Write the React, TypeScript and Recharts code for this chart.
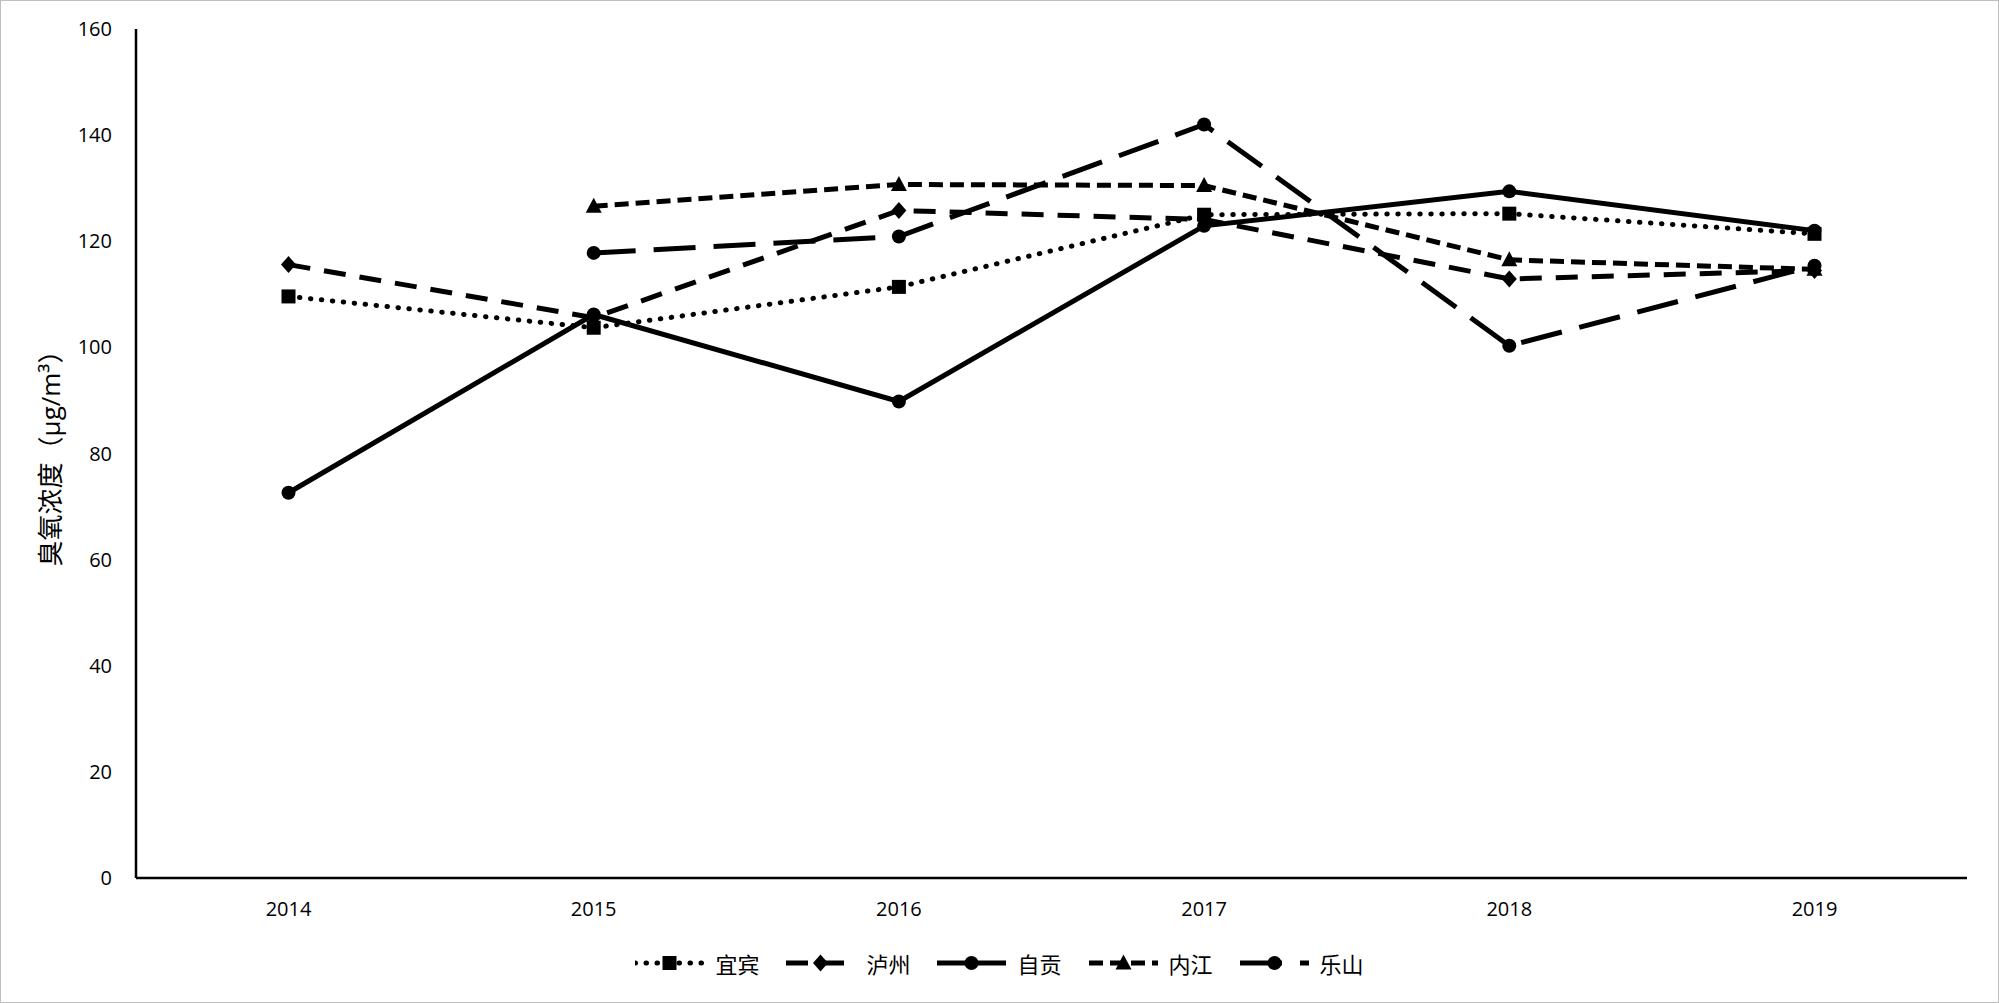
import React from 'react'
import { LineChart, Line, XAxis, YAxis, Legend, Label } from 'recharts'

const years = ['2014', '2015', '2016', '2017', '2018', '2019']
const yibin = [109.6, 103.7, 111.4, 125.0, 125.2, 121.4]
const luzhou = [115.6, 105.6, 125.8, 124.1, 112.9, 114.5]
const zigong = [72.6, 106.2, 89.8, 122.9, 129.4, 122.0]
const neijiang = [null, 126.6, 130.7, 130.5, 116.5, 114.7]
const leshan = [null, 117.8, 120.9, 142.0, 100.3, 115.4]
const yTicks = [0, 20, 40, 60, 80, 100, 120, 140, 160]

const data = years.map((year, i) => ({
  year,
  yibin: yibin[i],
  luzhou: luzhou[i],
  zigong: zigong[i],
  neijiang: neijiang[i],
  leshan: leshan[i],
}))

type Shape = 'square' | 'diamond' | 'circle' | 'triangle'

const series: { key: string; name: string; dash?: string; cap: 'round' | 'butt'; shape: Shape }[] = [
  { key: 'yibin', name: '宜宾', dash: '0.5 10.5', cap: 'round', shape: 'square' },
  { key: 'luzhou', name: '泸州', dash: '22 14', cap: 'butt', shape: 'diamond' },
  { key: 'zigong', name: '自贡', cap: 'butt', shape: 'circle' },
  { key: 'neijiang', name: '内江', dash: '14 7', cap: 'butt', shape: 'triangle' },
  { key: 'leshan', name: '乐山', dash: '42 18', cap: 'butt', shape: 'circle' },
]

const INK = '#000000'
const FONT = '"Open Sans", "Noto Sans CJK SC", sans-serif'
const LW = 5

function Marker({ shape, cx, cy }: { shape: Shape; cx: number; cy: number }) {
  if (shape === 'square') return <rect x={cx - 7} y={cy - 7} width={14} height={14} fill={INK} />
  if (shape === 'diamond')
    return <polygon points={`${cx},${cy - 8.5} ${cx + 7.5},${cy} ${cx},${cy + 8.5} ${cx - 7.5},${cy}`} fill={INK} />
  if (shape === 'triangle')
    return <polygon points={`${cx},${cy - 8.5} ${cx + 8},${cy + 6.5} ${cx - 8},${cy + 6.5}`} fill={INK} />
  return <circle cx={cx} cy={cy} r={7} fill={INK} />
}

const makeDot = (shape: Shape, name: string) => (props: any) => {
  const { cx, cy, index, value } = props
  if (value == null || cx == null || cy == null) return <g key={`${name}-${index}`} />
  return (
    <g key={`${name}-${index}`}>
      <Marker shape={shape} cx={cx} cy={cy} />
    </g>
  )
}

function LegendBox() {
  return (
    <div style={{ display: 'flex', justifyContent: 'center', alignItems: 'center', gap: 27, height: 26 }}>
      {series.map((s) => (
        <div key={s.key} style={{ display: 'flex', alignItems: 'center', gap: 11 }}>
          <svg width={69} height={20}>
            <line
              x1={0}
              y1={10}
              x2={69}
              y2={10}
              stroke={INK}
              strokeWidth={LW}
              strokeDasharray={s.dash}
              strokeLinecap={s.cap}
            />
            <Marker shape={s.shape} cx={34.5} cy={10} />
          </svg>
          <span style={{ fontSize: 22, color: INK, fontFamily: FONT }}>{s.name}</span>
        </div>
      ))}
    </div>
  )
}

function YTitle() {
  return (
    <text
      x={50}
      y={452}
      transform="rotate(-90 50 452)"
      textAnchor="middle"
      dominantBaseline="central"
      fontSize={26}
      fill={INK}
      fontFamily={FONT}
    >
      臭氧浓度（μg/m³）
    </text>
  )
}

export default function App() {
  return (
    <div
      style={{
        position: 'fixed',
        left: 0,
        top: 0,
        width: 1999,
        height: 1003,
        background: '#ffffff',
        boxShadow: 'inset 0 0 0 1px #bfbfbf',
      }}
    >
      <LineChart width={1999} height={1003} data={data} margin={{ top: 29, right: 32, left: 0, bottom: 65 }}>
        <XAxis
          dataKey="year"
          padding={{ left: 152.5, right: 152.5 }}
          height={60}
          tickLine={false}
          axisLine={{ stroke: INK, strokeWidth: 2.5 }}
          tickMargin={18}
          tick={{ fontSize: 20, fill: INK, fontFamily: FONT }}
        />
        <YAxis
          type="number"
          domain={[0, 160]}
          ticks={yTicks}
          width={136}
          tickLine={false}
          axisLine={{ stroke: INK, strokeWidth: 2.5 }}
          tickMargin={18}
          tick={{ fontSize: 20, fill: INK, fontFamily: FONT }}
        >
          <Label content={<YTitle />} />
        </YAxis>
        <Legend
          verticalAlign="middle"
          align="center"
          layout="horizontal"
          wrapperStyle={{ top: 950, left: 0, width: 1999 }}
          content={<LegendBox />}
        />
        {series.map((s) => (
          <Line
            key={s.key}
            dataKey={s.key}
            name={s.name}
            type="linear"
            stroke={INK}
            strokeWidth={LW}
            strokeDasharray={s.dash}
            strokeLinecap={s.cap}
            dot={makeDot(s.shape, s.key)}
            activeDot={false}
            isAnimationActive={false}
          />
        ))}
      </LineChart>
    </div>
  )
}
